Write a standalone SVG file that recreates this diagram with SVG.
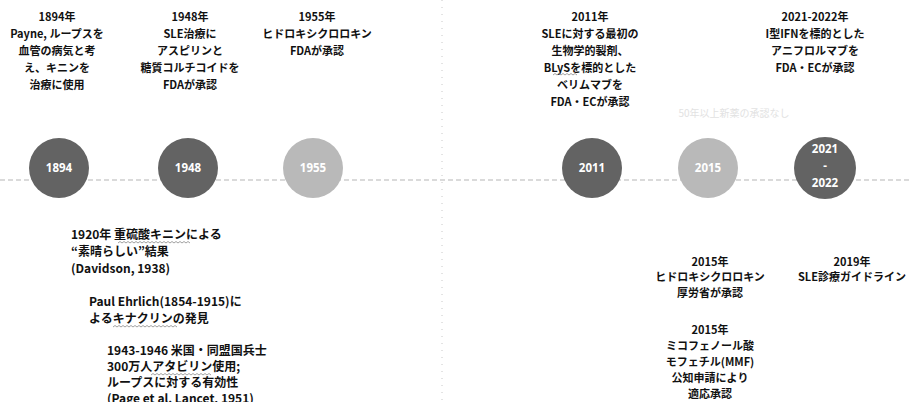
<svg xmlns="http://www.w3.org/2000/svg" width="911" height="402" viewBox="0 0 911 402">
<style>
.t{font-family:"Noto Sans CJK JP","Noto Sans",sans-serif;font-weight:bold;font-size:11px;fill:#111}
.b{font-size:12px}
.c{text-anchor:middle}
.yr{font-family:"Open Sans","Liberation Sans",sans-serif;font-weight:bold;font-size:11.5px;fill:#fff;text-anchor:middle}
.dark{fill:#636363}
.light{fill:#b9b9b9}
.wavy{fill:none;stroke:#8a8a8a;stroke-width:0.8}
</style>
<rect width="911" height="402" fill="#fff"/>
<g id="connectors">
<line x1="0" y1="180" x2="911" y2="180" stroke="#b5b5b5" stroke-width="1" stroke-dasharray="5 3"/>
<line x1="442" y1="0" x2="442" y2="402" stroke="#c8c8c8" stroke-width="1" stroke-dasharray="1 6"/>
</g>
<g id="n1894">
<circle class="dark" cx="59" cy="168" r="30"/>
<text class="yr" x="59" y="172">1894</text>
<text class="t c" x="57" y="21">1894年</text>
<text class="t c" x="57" y="38">Payne, ループスを</text>
<text class="t c" x="57" y="55">血管の病気と考</text>
<text class="t c" x="57" y="72">え、キニンを</text>
<text class="t c" x="57" y="89">治療に使用</text>
</g>
<g id="n1948">
<circle class="dark" cx="188" cy="168" r="30"/>
<text class="yr" x="188" y="172">1948</text>
<text class="t c" x="190" y="21">1948年</text>
<text class="t c" x="190" y="38">SLE治療に</text>
<text class="t c" x="190" y="55">アスピリンと</text>
<text class="t c" x="190" y="72">糖質コルチコイドを</text>
<text class="t c" x="190" y="89">FDAが承認</text>
</g>
<g id="n1955">
<circle class="light" cx="313" cy="168" r="30"/>
<text class="yr" x="313" y="172">1955</text>
<text class="t c" x="317" y="21">1955年</text>
<text class="t c" x="317" y="38">ヒドロキシクロロキン</text>
<text class="t c" x="317" y="55">FDAが承認</text>
</g>
<g id="n2011">
<circle class="dark" cx="592" cy="168" r="30"/>
<text class="yr" x="592" y="172">2011</text>
<text class="t c" x="590" y="21">2011年</text>
<text class="t c" x="590" y="38">SLEに対する最初の</text>
<text class="t c" x="590" y="55">生物学的製剤、</text>
<text class="t c" x="590" y="72">BLySを標的とした</text>
<text class="t c" x="590" y="89">ベリムマブを</text>
<text class="t c" x="590" y="106">FDA・ECが承認</text>
<path class="wavy" d="M553 75 l2 -1.5 l2 1.5 l2 -1.5 l2 1.5 l2 -1.5 l2 1.5 l2 -1.5 l2 1.5 l2 -1.5 l2 1.5 l2 -1.5 l2 1.5"/>
</g>
<g id="n2015">
<circle class="light" cx="708" cy="168" r="30"/>
<text class="yr" x="708" y="172">2015</text>
</g>
<g id="n2021">
<circle class="dark" cx="825" cy="168" r="31"/>
<text class="yr" x="825" y="153">2021</text>
<text class="yr" x="825" y="170">-</text>
<text class="yr" x="825" y="187">2022</text>
<text class="t c" x="815" y="21">2021-2022年</text>
<text class="t c" x="815" y="38">I型IFNを標的とした</text>
<text class="t c" x="815" y="55">アニフロルマブを</text>
<text class="t c" x="815" y="72">FDA・ECが承認</text>
</g>
<g id="gap">
<text class="t c" x="734" y="117" style="fill:#e2e2e2;font-weight:normal;font-size:10px">50年以上新薬の承認なし</text>
</g>
<g id="n1920">
<text class="t b" x="71" y="239">1920年 重硫酸キニンによる</text>
<text class="t b" x="71" y="256">“素晴らしい”結果</text>
<text class="t b" x="71" y="273">(Davidson, 1938)</text>
<path class="wavy" d="M118 243 l2 -1.5 l2 1.5 l2 -1.5 l2 1.5 l2 -1.5 l2 1.5 l2 -1.5 l2 1.5 l2 -1.5 l2 1.5 l2 -1.5 l2 1.5 l2 -1.5 l2 1.5 l2 -1.5 l2 1.5 l2 -1.5 l2 1.5 l2 -1.5 l2 1.5 l2 -1.5 l2 1.5 l2 -1.5 l2 1.5 l2 -1.5 l2 1.5 l2 -1.5 l2 1.5 l2 -1.5 l2 1.5 l2 -1.5 l2 1.5 l2 -1.5 l2 1.5 l2 -1.5 l2 1.5"/>
</g>
<g id="nEhrlich">
<text class="t b" x="89" y="306">Paul Ehrlich(1854-1915)に</text>
<text class="t b" x="89" y="323">よるキナクリンの発見</text>
<path class="wavy" d="M113 327 l2 -1.5 l2 1.5 l2 -1.5 l2 1.5 l2 -1.5 l2 1.5 l2 -1.5 l2 1.5 l2 -1.5 l2 1.5 l2 -1.5 l2 1.5 l2 -1.5 l2 1.5 l2 -1.5 l2 1.5 l2 -1.5 l2 1.5 l2 -1.5 l2 1.5 l2 -1.5 l2 1.5 l2 -1.5 l2 1.5 l2 -1.5 l2 1.5 l2 -1.5 l2 1.5 l2 -1.5 l2 1.5 l2 -1.5 l2 1.5"/>
</g>
<g id="n1943">
<text class="t b" x="107" y="355">1943-1946 米国・同盟国兵士</text>
<text class="t b" x="107" y="371">300万人アタビリン使用;</text>
<text class="t b" x="107" y="387">ループスに対する有効性</text>
<text class="t b" x="107" y="403">(Page et al. Lancet, 1951)</text>
<path class="wavy" d="M151 375 l2 -1.5 l2 1.5 l2 -1.5 l2 1.5 l2 -1.5 l2 1.5 l2 -1.5 l2 1.5 l2 -1.5 l2 1.5 l2 -1.5 l2 1.5 l2 -1.5 l2 1.5 l2 -1.5 l2 1.5 l2 -1.5 l2 1.5 l2 -1.5 l2 1.5 l2 -1.5 l2 1.5 l2 -1.5 l2 1.5 l2 -1.5 l2 1.5 l2 -1.5 l2 1.5 l2 -1.5 l2 1.5"/>
</g>
<g id="n2015hcq">
<text class="t c" x="710" y="266">2015年</text>
<text class="t c" x="710" y="281">ヒドロキシクロロキン</text>
<text class="t c" x="710" y="297">厚労省が承認</text>
</g>
<g id="n2019">
<text class="t c" x="852" y="266">2019年</text>
<text class="t c" x="852" y="281">SLE診療ガイドライン</text>
</g>
<g id="n2015mmf">
<text class="t c" x="710" y="334">2015年</text>
<text class="t c" x="710" y="350">ミコフェノール酸</text>
<text class="t c" x="710" y="366">モフェチル(MMF)</text>
<text class="t c" x="710" y="382">公知申請により</text>
<text class="t c" x="710" y="398">適応承認</text>
</g>
</svg>
